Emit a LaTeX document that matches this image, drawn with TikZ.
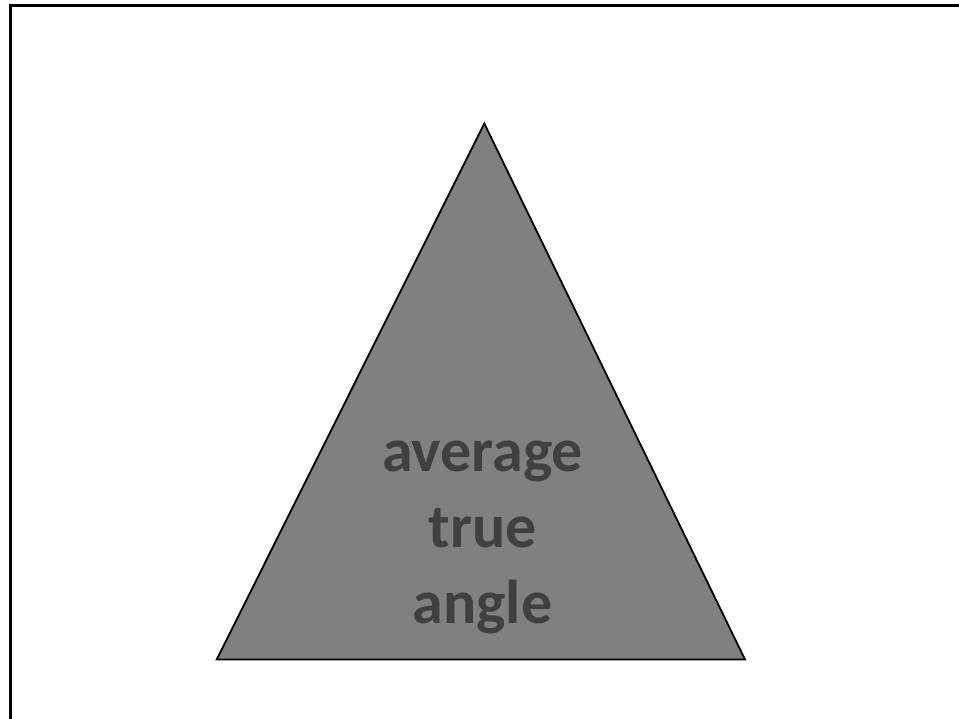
\documentclass[tikz,border=0pt]{standalone}
\usepackage{fontspec}
\setmainfont{Carlito}
\begin{document}
\begin{tikzpicture}[x=1pt,y=-1pt,
  frameline/.style={line width=2.2pt,color=black},
  tri/.style={draw=black,line width=1.8pt,fill={rgb,255:red,128;green,128;blue,128},line join=miter},
  label/.style={font=\fontsize{62}{76}\selectfont\bfseries,text={rgb,255:red,64;green,64;blue,64},align=center,inner sep=0pt}]
\useasboundingbox (0,0) rectangle (959,719);
\coordinate (fb) at (10.5,719);
\coordinate (fc) at (10.5,5.5);
\coordinate (fr) at (959,5.5);
\draw[frameline] (fb) -- (fc) -- (fr);
\coordinate (apex) at (484.3,123.5);
\coordinate (bl) at (216.7,659.5);
\coordinate (br) at (745,659.5);
\draw[tri] (apex) -- (bl) -- (br) -- cycle;
\node[label,anchor=base] (txt) at (482.5,623) {average\\true\\angle};
\end{tikzpicture}
\end{document}
